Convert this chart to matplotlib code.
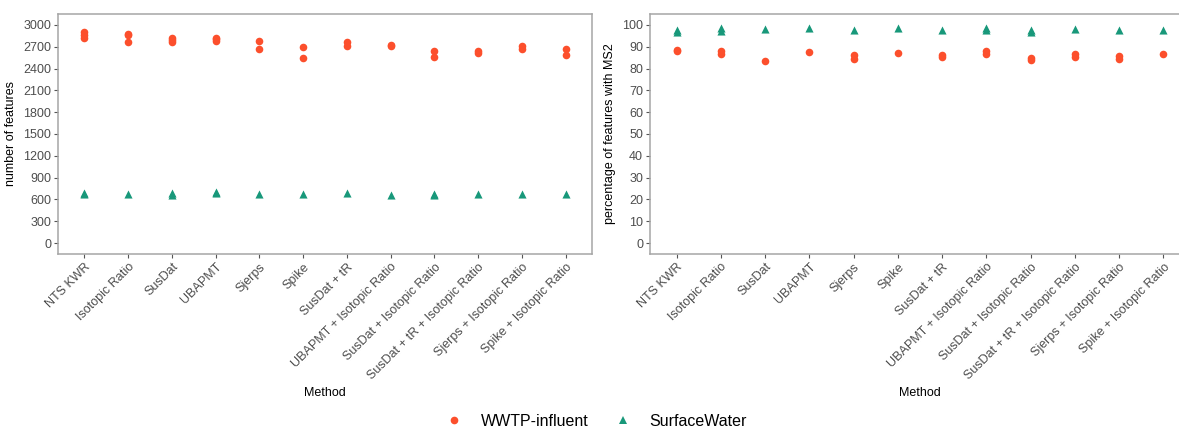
import matplotlib
matplotlib.use("Agg")
import matplotlib.pyplot as plt
from matplotlib.lines import Line2D

plt.rcParams['font.family'] = ['Liberation Sans', 'DejaVu Sans']

methods = ["NTS KWR", "Isotopic Ratio", "SusDat", "UBAPMT", "Sjerps", "Spike",
           "SusDat + tR", "UBAPMT + Isotopic Ratio", "SusDat + Isotopic Ratio",
           "SusDat + tR + Isotopic Ratio", "Sjerps + Isotopic Ratio",
           "Spike + Isotopic Ratio"]

# number of features (replicates per method)
wwtp_features = [[2900, 2860, 2825], [2870, 2860, 2765], [2815, 2790, 2768],
                 [2825, 2805, 2785], [2784, 2670], [2692, 2546],
                 [2760, 2715], [2718, 2705], [2645, 2560],
                 [2645, 2610], [2712, 2668], [2668, 2580]]
sw_features = [[682, 676], [676], [695, 668], [702, 688], [673], [676],
               [684], [668], [672, 662], [672], [674], [680]]

# percentage of features with MS2
wwtp_ms2 = [[88.6, 88.0], [88.2, 86.6], [83.5], [87.6], [86.0, 84.6], [87.3],
            [86.0, 85.5], [88.0, 86.8], [85.0, 83.8], [86.5, 85.2],
            [85.6, 84.2], [86.8]]
sw_ms2 = [[97.6, 96.6], [98.6, 97.2], [98.0], [98.8], [97.6], [98.5],
          [97.6], [98.6, 97.6], [97.6, 96.6], [98.1], [97.6], [97.7]]

c_wwtp = "#FC4F2C"
c_sw = "#18987A"
frame_col = "#A6A6A6"
tick_col = "#4D4D4D"

fig = plt.figure(figsize=(11.79, 4.30), dpi=100)
ax1 = fig.add_axes([58/1179, 1 - 254/430, (592-58)/1179, (254-14)/430])
ax2 = fig.add_axes([650/1179, 1 - 254/430, (1190-650)/1179, (254-14)/430])


def flat(series):
    xs, ys = [], []
    for i, vals in enumerate(series):
        for v in vals:
            xs.append(i)
            ys.append(v)
    return xs, ys


for ax, wv, sv, lab, yt, yl in [
        (ax1, wwtp_features, sw_features, "number of features",
         list(range(0, 3001, 300)), (-150, 3150)),
        (ax2, wwtp_ms2, sw_ms2, "percentage of features with MS2",
         list(range(0, 101, 10)), (-5, 105))]:
    x, y = flat(wv)
    ax.scatter(x, y, s=30, marker='o', color=c_wwtp, linewidths=0, zorder=3)
    x, y = flat(sv)
    ax.scatter(x, y, s=34, marker='^', color=c_sw, linewidths=0, zorder=3)
    ax.set_xlim(-0.6, len(methods) - 1 + 0.6)
    ax.set_ylim(*yl)
    ax.set_yticks(yt)
    ax.set_xticks(range(len(methods)))
    ax.set_xticklabels(methods, rotation=45, ha='right', rotation_mode='anchor',
                       fontsize=9, color=tick_col)
    ax.tick_params(axis='y', labelsize=9, labelcolor=tick_col)
    ax.tick_params(axis='both', direction='out', length=3, width=0.8,
                   color="#555555", pad=2)
    for s in ax.spines.values():
        s.set_color(frame_col)
        s.set_linewidth(1.1)
    ax.set_xlabel("Method", fontsize=9, labelpad=4)
    ax.set_ylabel(lab, fontsize=9, labelpad=4)

handles = [Line2D([], [], linestyle='none', marker='o', color=c_wwtp,
                  markersize=5.5, markeredgewidth=0, label="WWTP-influent"),
           Line2D([], [], linestyle='none', marker='^', color=c_sw,
                  markersize=6, markeredgewidth=0, label="SurfaceWater")]
fig.legend(handles=handles, loc='center', bbox_to_anchor=(0.506, 0.02),
           ncol=2, frameon=False, fontsize=11.5, handletextpad=1.2,
           columnspacing=1.6, handlelength=1.0)

fig.savefig("out.png", dpi=100)
